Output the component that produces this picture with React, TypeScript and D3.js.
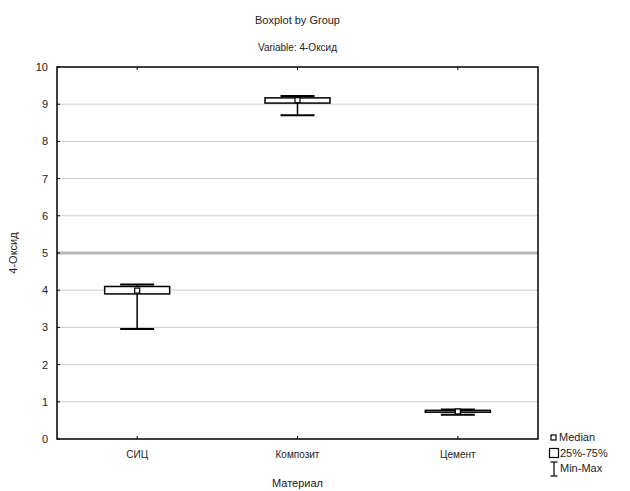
import React from "react";
import * as d3 from "d3";

const categories = ["СИЦ", "Композит", "Цемент"];
const minValues = [2.96, 8.7, 0.65];
const q1Values = [3.9, 9.03, 0.72];
const medianValues = [3.99, 9.11, 0.74];
const q3Values = [4.1, 9.17, 0.77];
const maxValues = [4.15, 9.22, 0.79];
const yTicks = [0, 1, 2, 3, 4, 5, 6, 7, 8, 9, 10];

const W = 630;
const H = 491;
const left = 57;
const right = 538;
const top = 67;
const bottom = 439;
const font = "'Liberation Sans', Arial, sans-serif";

export default function App() {
  const x = d3.scalePoint<string>().domain(categories).range([left, right]).padding(0.5);
  const y = d3.scaleLinear().domain([0, 10]).range([bottom, top]);
  const boxW = 65;
  const capW = 34;

  return (
    <svg width={W} height={H} style={{ position: "absolute", left: 0, top: 0, background: "#fff" }}>
      <text x={(left + right) / 2} y={24} textAnchor="middle" fontFamily={font} fontSize={11} fill="#222">
        Boxplot by Group
      </text>
      <text x={(left + right) / 2} y={51} textAnchor="middle" fontFamily={font} fontSize={10} fill="#222">
        Variable: 4-Оксид
      </text>
      {/* grid */}
      {yTicks.filter((t) => t > 0 && t < 10).map((t) => (
        <line key={"g" + t} x1={left} x2={right} y1={y(t)} y2={y(t)}
          stroke={t === 5 ? "#b8b8b8" : "#cccccc"} strokeWidth={t === 5 ? 3 : 1} />
      ))}
      {/* y ticks and labels */}
      {yTicks.map((t) => (
        <g key={"t" + t}>
          <line x1={left} x2={left + 3} y1={y(t)} y2={y(t)} stroke="#000" strokeWidth={1} />
          <text x={48} y={y(t) + 4} textAnchor="end" fontFamily={font} fontSize={11} fill="#222">{t}</text>
        </g>
      ))}
      {/* x ticks */}
      {categories.map((c) => (
        <g key={"x" + c}>
          <line x1={x(c)} x2={x(c)} y1={bottom} y2={bottom - 3} stroke="#000" />
          <line x1={x(c)} x2={x(c)} y1={top} y2={top + 3} stroke="#000" />
          <text x={x(c)} y={458} textAnchor="middle" fontFamily={font} fontSize={10} fill="#222">{c}</text>
        </g>
      ))}
      {/* boxes */}
      {categories.map((c, i) => {
        const cx = x(c) as number;
        return (
          <g key={"b" + c} stroke="#000" fill="none">
            <line x1={cx} x2={cx} y1={y(minValues[i])} y2={y(q1Values[i])} strokeWidth={1.5} />
            <line x1={cx} x2={cx} y1={y(q3Values[i])} y2={y(maxValues[i])} strokeWidth={1.5} />
            <line x1={cx - capW / 2} x2={cx + capW / 2} y1={y(minValues[i])} y2={y(minValues[i])} strokeWidth={2} />
            <line x1={cx - capW / 2} x2={cx + capW / 2} y1={y(maxValues[i])} y2={y(maxValues[i])} strokeWidth={2} />
            <rect x={cx - boxW / 2} y={y(q3Values[i])} width={boxW}
              height={Math.max(0.5, y(q1Values[i]) - y(q3Values[i]))} fill="#fff" strokeWidth={1.5} />
            <rect x={cx - 2.5} y={y(medianValues[i]) - 2.5} width={5} height={5} fill="#fff" strokeWidth={1.2} />
          </g>
        );
      })}
      {/* frame */}
      <rect x={left} y={top} width={right - left} height={bottom - top} fill="none" stroke="#000" strokeWidth={1.5} />
      {/* axis titles */}
      <text x={(left + right) / 2} y={487} textAnchor="middle" fontFamily={font} fontSize={11} fill="#222">Материал</text>
      <text transform={`translate(17,${(top + bottom) / 2}) rotate(-90)`} textAnchor="middle" fontFamily={font} fontSize={11} fill="#222">4-Оксид</text>
      {/* legend */}
      <g fontFamily={font} fontSize={11} fill="#222">
        <rect x={551} y={435} width={5} height={5} fill="#fff" stroke="#000" strokeWidth={1.2} />
        <text x={559} y={441}>Median</text>
        <rect x={549.5} y={448.5} width={9} height={9} fill="#fff" stroke="#000" strokeWidth={1.2} />
        <text x={560} y={457}>25%-75%</text>
        <g stroke="#000" strokeWidth={1.2}>
          <line x1={554} x2={554} y1={462} y2={476} />
          <line x1={550.5} x2={557.5} y1={462} y2={462} />
          <line x1={550.5} x2={557.5} y1={476} y2={476} />
        </g>
        <text x={560} y={472}>Min-Max</text>
      </g>
    </svg>
  );
}
